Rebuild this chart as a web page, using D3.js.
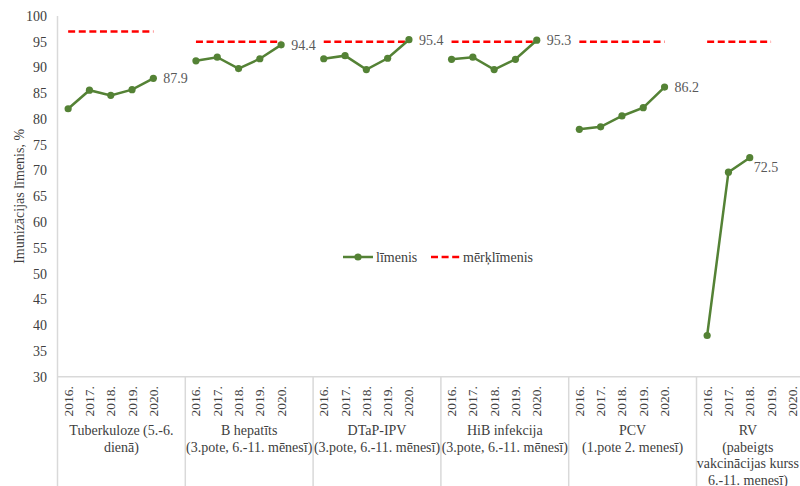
<!DOCTYPE html>
<html>
<head>
<meta charset="utf-8">
<script src="https://cdn.jsdelivr.net/npm/d3@7"></script>
<style>
  body { margin: 0; background: #fff; }
  svg text { font-family: "Liberation Serif", "Times New Roman", Times, "DejaVu Serif", serif; fill: #404040; }
</style>
</head>
<body>
<div id="chart"></div>
<script>
// vaccine groups (label lines under the axis)
const groups = ['TB', 'HB', 'DTaP', 'HiB', 'PCV', 'RV'];
const groupLabels = [
  ['Tuberkuloze (5.-6.', 'dienā)'],
  ['B hepatīts', '(3.pote, 6.-11. mēnesī)'],
  ['DTaP-IPV', '(3.pote, 6.-11. mēnesī)'],
  ['HiB infekcija', '(3.pote, 6.-11. mēnesī)'],
  ['PCV', '(1.pote 2. menesī)'],
  ['RV', '(pabeigts', 'vakcinācijas kurss', '6.-11. menesī)']
];
const years = ['2016.', '2017.', '2018.', '2019.', '2020.'];

// līmenis
const levelTB   = [82.0, 85.6, 84.6, 85.7, 87.9];
const levelHB   = [91.3, 92.0, 89.8, 91.7, 94.4];
const levelDTaP = [91.7, 92.3, 89.6, 91.8, 95.4];
const levelHiB  = [91.6, 92.0, 89.6, 91.6, 95.3];
const levelPCV  = [78.0, 78.5, 80.6, 82.2, 86.2];
const levelRV   = [38.0, 69.7, 72.5, null, null];

// mērķlīmenis
const targetTB   = [97, 97, 97, 97, 97];
const targetHB   = [95, 95, 95, 95, 95];
const targetDTaP = [95, 95, 95, 95, 95];
const targetHiB  = [95, 95, 95, 95, 95];
const targetPCV  = [95, 95, 95, 95, 95];
const targetRV   = [95, 95, 95, 95, null];

const yTicks = d3.range(30, 101, 5);

const levels = [levelTB, levelHB, levelDTaP, levelHiB, levelPCV, levelRV];
const targets = [targetTB, targetHB, targetDTaP, targetHiB, targetPCV, targetRV];

const W = 800, H = 486;
const mLeft = 57.5, mTop = 16, mBottom = 376.7;
const groupW = 127.8;
const FONT = '"Liberation Serif", "Times New Roman", Times, "DejaVu Serif", serif';

const svg = d3.select('#chart').append('svg')
  .attr('width', W).attr('height', H)
  .attr('font-family', FONT);

const x0 = d3.scaleBand().domain(groups).range([mLeft, mLeft + groupW * groups.length]);
// 5 years + one empty slot per group
const x1 = d3.scaleBand().domain([...years, '']).range([0, x0.bandwidth()]);
const y = d3.scaleLinear().domain([30, 100]).range([mBottom, mTop]);

const xc = (g, yr) => x0(g) + x1(yr) + x1.bandwidth() / 2;

// y axis line
svg.append('line')
  .attr('x1', mLeft).attr('x2', mLeft).attr('y1', mTop).attr('y2', H)
  .attr('stroke', '#d9d9d9').attr('stroke-width', 1.5);

// x axis line
svg.append('line')
  .attr('x1', mLeft).attr('x2', W).attr('y1', mBottom).attr('y2', mBottom)
  .attr('stroke', '#d9d9d9').attr('stroke-width', 1.5);

// group separators
svg.selectAll('.sep').data(groups.slice(1)).join('line')
  .attr('x1', d => x0(d)).attr('x2', d => x0(d))
  .attr('y1', mBottom).attr('y2', H)
  .attr('stroke', '#d9d9d9').attr('stroke-width', 1.5);

// y tick labels
svg.selectAll('.ytick').data(yTicks).join('text')
  .attr('x', 47).attr('y', d => y(d)).attr('dy', '0.35em')
  .attr('text-anchor', 'end').style('font-size', '14px')
  .text(d => d);

// y title
svg.append('text')
  .attr('transform', `translate(24,${(mTop + mBottom) / 2}) rotate(-90)`)
  .attr('text-anchor', 'middle').style('font-size', '14px')
  .text('Imunizācijas līmenis, %');

// year labels
groups.forEach(g => {
  svg.selectAll('.yr-' + g).data(years).join('text')
    .attr('transform', d => `translate(${xc(g, d) + 4.5},386) rotate(-90)`)
    .attr('text-anchor', 'end').style('font-size', '13.5px')
    .text(d => d);
});

// group labels (kept inside the right edge like the original)
groups.forEach((g, i) => {
  const t = svg.append('text')
    .attr('text-anchor', 'middle').style('font-size', '14px');
  const spans = t.selectAll('tspan').data(groupLabels[i]).join('tspan')
    .attr('x', x0(g) + x0.bandwidth() / 2)
    .attr('y', (d, j) => 435 + j * 16.5)
    .text(d => d);
  const bb = t.node().getBBox();
  const over = bb.x + bb.width - (W - 1);
  if (over > 0) spans.attr('x', x0(g) + x0.bandwidth() / 2 - over);
});

const line = d3.line()
  .defined(d => d.v != null)
  .x(d => xc(d.g, d.yr))
  .y(d => y(d.v));

// target lines
groups.forEach((g, i) => {
  const pts = years.map((yr, j) => ({ g, yr, v: targets[i][j] }));
  svg.append('path').datum(pts)
    .attr('fill', 'none').attr('stroke', '#ff0000')
    .attr('stroke-width', 2.5).attr('stroke-dasharray', '7,3.6')
    .attr('d', line);
});

// level lines + markers + last label
groups.forEach((g, i) => {
  const pts = years.map((yr, j) => ({ g, yr, v: levels[i][j] }));
  svg.append('path').datum(pts)
    .attr('fill', 'none').attr('stroke', '#548235')
    .attr('stroke-width', 2.5).attr('d', line);
  svg.selectAll('.m-' + g).data(pts.filter(d => d.v != null)).join('circle')
    .attr('cx', d => xc(d.g, d.yr)).attr('cy', d => y(d.v))
    .attr('r', 3.6).attr('fill', '#548235');
  const last = pts.filter(d => d.v != null).pop();
  const isRV = g === 'RV';
  svg.append('text')
    .attr('x', xc(last.g, last.yr) + (isRV ? 4 : 10))
    .attr('y', y(last.v) + (isRV ? 14 : 5))
    .style('font-size', '14px').style('fill', '#595959')
    .text(last.v.toFixed(1));
});

// legend
const lg = svg.append('g');
lg.append('line').attr('x1', 343).attr('x2', 373).attr('y1', 257).attr('y2', 257)
  .attr('stroke', '#548235').attr('stroke-width', 2.5);
lg.append('circle').attr('cx', 358).attr('cy', 257).attr('r', 3.6).attr('fill', '#548235');
lg.append('text').attr('x', 376).attr('y', 257).attr('dy', '0.35em')
  .style('font-size', '14px').text('līmenis');
lg.append('line').attr('x1', 431).attr('x2', 460).attr('y1', 257).attr('y2', 257)
  .attr('stroke', '#ff0000').attr('stroke-width', 2.5).attr('stroke-dasharray', '7,3.6');
lg.append('text').attr('x', 463).attr('y', 257).attr('dy', '0.35em')
  .style('font-size', '14px').text('mērķlīmenis');
</script>
</body>
</html>
